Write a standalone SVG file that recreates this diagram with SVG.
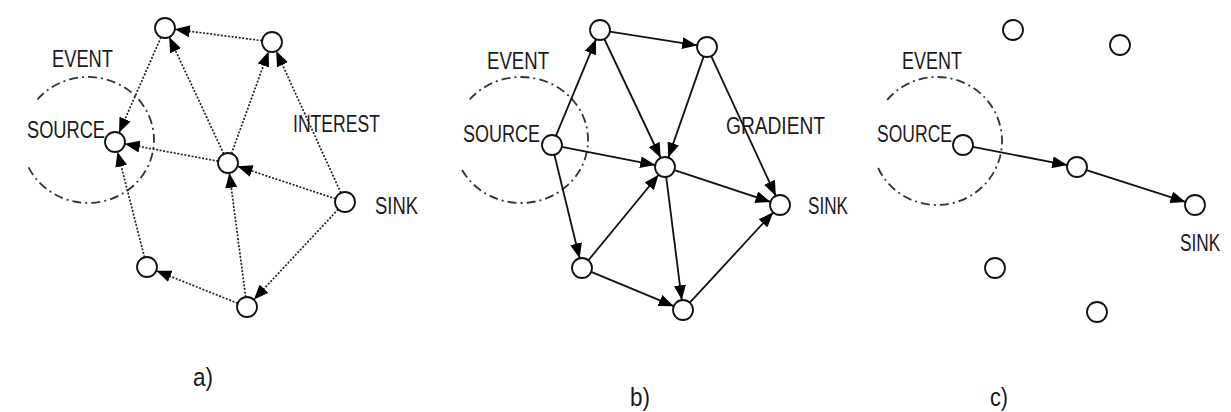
<svg xmlns="http://www.w3.org/2000/svg" width="1231" height="412" viewBox="0 0 1231 412">
<style>
.node{fill:#fff;stroke:#111;stroke-width:1.8}
.dot{fill:none;stroke:#222;stroke-width:1.7;stroke-dasharray:2,1.6}
.sol{fill:none;stroke:#111;stroke-width:1.8}
.ell{fill:none;stroke:#333;stroke-width:1.8;stroke-dasharray:9,4,2,4}
text{font-family:"Liberation Sans",Arial,sans-serif;font-size:23px;fill:#1a1a1a}
.lab{font-size:25px}
</style>
<defs>
<marker id="ah" markerUnits="userSpaceOnUse" markerWidth="15" markerHeight="12" refX="15" refY="6" orient="auto">
<path d="M0,0 L15,6 L0,12 z" fill="#000"/>
</marker>
</defs>
<rect width="1231" height="412" fill="#fff"/>

<g id="ellipses">
<path class="ell" d="M37.4,99.5 A66,63 0 1 1 28.2,166.6"/>
<path class="ell" d="M469.7,99.5 A67,63 0 1 1 460.3,166.6"/>
<path class="ell" d="M887.2,99.9 A65,64 0 1 1 878.1,168"/>
</g>

<g id="connectors">
<g marker-end="url(#ah)">
<line class="dot" x1="262.1" y1="40.7" x2="174.9" y2="29.3"/>
<line class="dot" x1="161" y1="37.2" x2="119" y2="132.8"/>
<line class="dot" x1="223.8" y1="153.9" x2="169.2" y2="37.1"/>
<line class="dot" x1="231.4" y1="153.6" x2="268.6" y2="51.4"/>
<line class="dot" x1="340.9" y1="192.9" x2="276.2" y2="51.1"/>
<line class="dot" x1="218.2" y1="161.2" x2="124.8" y2="143.8"/>
<line class="dot" x1="335.5" y1="198.8" x2="237.5" y2="166.2"/>
<line class="dot" x1="245.7" y1="297.1" x2="229.3" y2="172.9"/>
<line class="dot" x1="144.5" y1="257.3" x2="117.5" y2="151.7"/>
<line class="dot" x1="237.7" y1="303.3" x2="156.3" y2="270.7"/>
<line class="dot" x1="338.2" y1="209.3" x2="253.8" y2="299.7"/>

<line class="sol" x1="555.9" y1="135.8" x2="596.1" y2="39.2"/>
<line class="sol" x1="609.9" y1="31.6" x2="697.1" y2="45.4"/>
<line class="sol" x1="604.3" y1="39" x2="660.7" y2="158"/>
<line class="sol" x1="703.7" y1="56.4" x2="668.3" y2="157.6"/>
<line class="sol" x1="711.2" y1="56.1" x2="775.8" y2="195.9"/>
<line class="sol" x1="561.8" y1="146.9" x2="655.2" y2="165.1"/>
<line class="sol" x1="674.5" y1="170.1" x2="770.5" y2="201.9"/>
<line class="sol" x1="554.4" y1="154.7" x2="579.6" y2="258.3"/>
<line class="sol" x1="588.4" y1="260.3" x2="658.7" y2="174.7"/>
<line class="sol" x1="666.2" y1="176.9" x2="681.8" y2="300.1"/>
<line class="sol" x1="591.2" y1="271.8" x2="673.8" y2="306.2"/>
<line class="sol" x1="689.8" y1="302.7" x2="773.2" y2="212.3"/>

<line class="sol" x1="972.8" y1="146.9" x2="1067.2" y2="165.1"/>
<line class="sol" x1="1086.5" y1="170.1" x2="1185.5" y2="201.9"/>
</g>
</g>

<g id="panel-a">
<g id="a-tl"><circle class="node" cx="165" cy="28" r="10"/></g>
<g id="a-tr"><circle class="node" cx="272" cy="42" r="10"/></g>
<g id="a-source"><circle class="node" cx="115" cy="142" r="10"/></g>
<g id="a-center"><circle class="node" cx="228" cy="163" r="10"/></g>
<g id="a-sink"><circle class="node" cx="345" cy="202" r="10"/></g>
<g id="a-bl"><circle class="node" cx="147" cy="267" r="10"/></g>
<g id="a-b"><circle class="node" cx="247" cy="307" r="10"/></g>
<text x="52" y="67" textLength="61" lengthAdjust="spacingAndGlyphs">EVENT</text>
<text x="27" y="138" textLength="78" lengthAdjust="spacingAndGlyphs">SOURCE</text>
<text x="293" y="132" textLength="87" lengthAdjust="spacingAndGlyphs">INTEREST</text>
<text x="375" y="214" textLength="43" lengthAdjust="spacingAndGlyphs">SINK</text>
<text class="lab" x="193" y="386" textLength="20" lengthAdjust="spacingAndGlyphs">a)</text>
</g>

<g id="panel-b">
<g id="b-tl"><circle class="node" cx="600" cy="30" r="10"/></g>
<g id="b-tr"><circle class="node" cx="707" cy="47" r="10"/></g>
<g id="b-source"><circle class="node" cx="552" cy="145" r="10"/></g>
<g id="b-center"><circle class="node" cx="665" cy="167" r="10"/></g>
<g id="b-sink"><circle class="node" cx="780" cy="205" r="10"/></g>
<g id="b-bl"><circle class="node" cx="582" cy="268" r="10"/></g>
<g id="b-b"><circle class="node" cx="683" cy="310" r="10"/></g>
<text x="487" y="69" textLength="62" lengthAdjust="spacingAndGlyphs">EVENT</text>
<text x="463" y="142" textLength="77" lengthAdjust="spacingAndGlyphs">SOURCE</text>
<text x="726" y="134" textLength="99" lengthAdjust="spacingAndGlyphs">GRADIENT</text>
<text x="808" y="214" textLength="40" lengthAdjust="spacingAndGlyphs">SINK</text>
<text class="lab" x="630" y="406" textLength="20" lengthAdjust="spacingAndGlyphs">b)</text>
</g>

<g id="panel-c">
<g id="c-n1"><circle class="node" cx="1013" cy="30" r="10"/></g>
<g id="c-n2"><circle class="node" cx="1120" cy="45" r="10"/></g>
<g id="c-source"><circle class="node" cx="963" cy="145" r="10"/></g>
<g id="c-mid"><circle class="node" cx="1077" cy="167" r="10"/></g>
<g id="c-sink"><circle class="node" cx="1195" cy="205" r="10"/></g>
<g id="c-n3"><circle class="node" cx="995" cy="268" r="10"/></g>
<g id="c-n4"><circle class="node" cx="1097" cy="312" r="10"/></g>
<text x="902" y="69" textLength="60" lengthAdjust="spacingAndGlyphs">EVENT</text>
<text x="877" y="142" textLength="75" lengthAdjust="spacingAndGlyphs">SOURCE</text>
<text transform="translate(1180,251) scale(0.75,1)" x="0" y="0">SINK</text>
<text class="lab" x="990" y="406" textLength="18" lengthAdjust="spacingAndGlyphs">c)</text>
</g>
</svg>
